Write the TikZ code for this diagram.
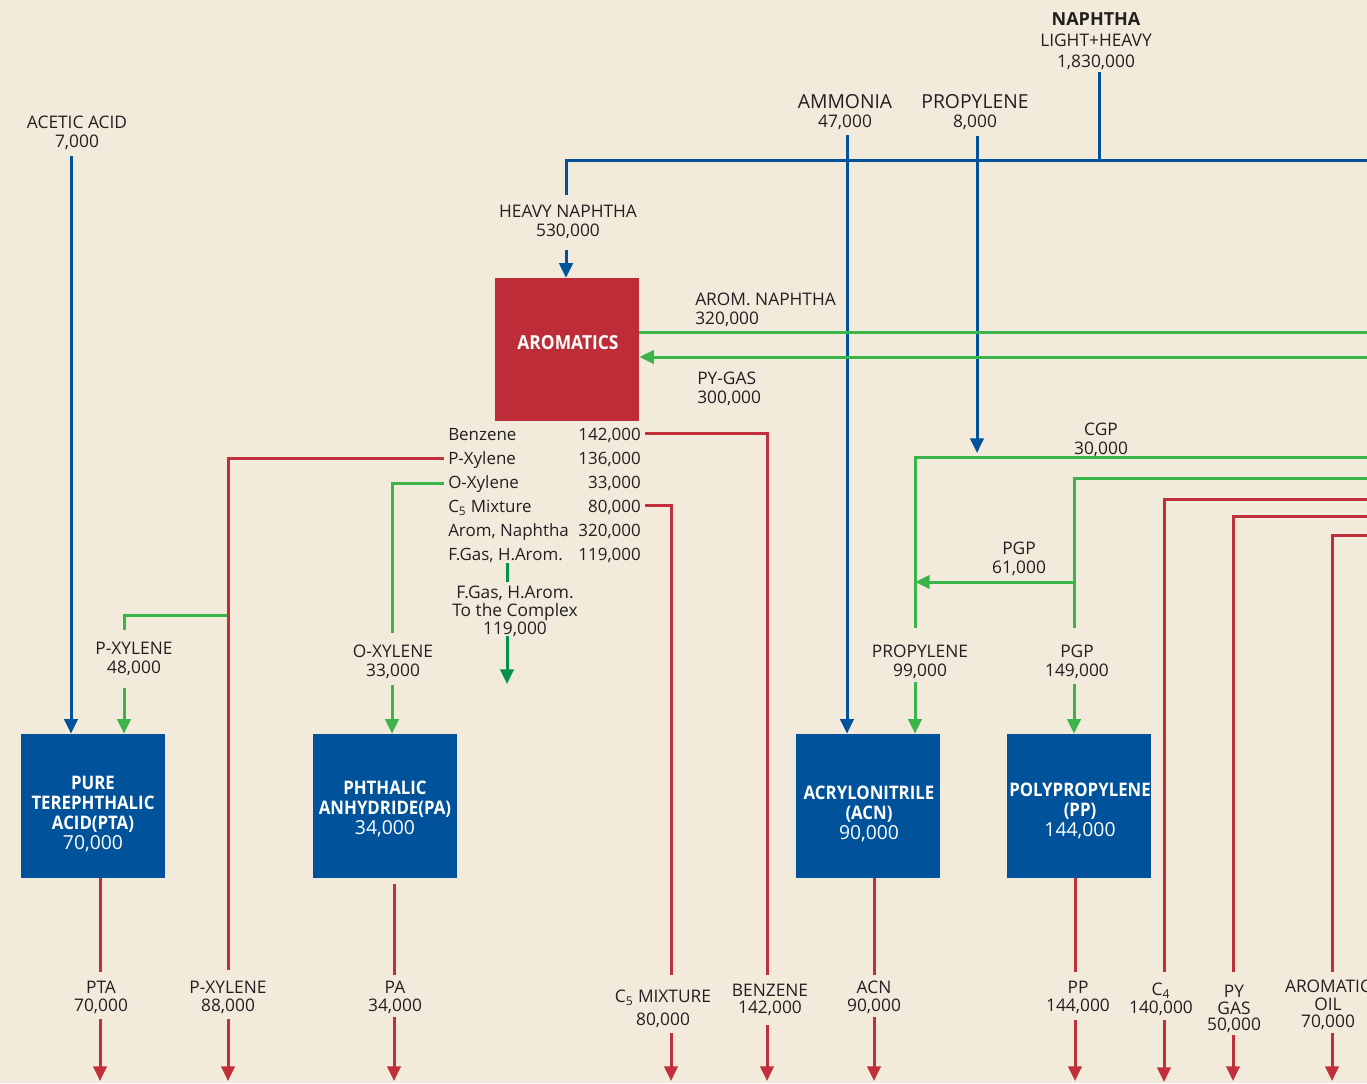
\documentclass[tikz,border=0pt]{standalone}
\usepackage{fontspec}
\setmainfont{Open Sans}
\newfontfamily\bxfont{Open Sans}[FakeStretch=0.9]
\usetikzlibrary{arrows.meta}
\definecolor{bgc}{HTML}{F2EBDC}
\definecolor{lblue}{HTML}{00529B}
\definecolor{lred}{HTML}{C1303A}
\definecolor{boxred}{HTML}{BE2D37}
\definecolor{lgreen}{HTML}{3BB44A}
\definecolor{dgreen}{HTML}{00924A}
\definecolor{txt}{HTML}{231F20}
\begin{document}
\begin{tikzpicture}[x=0.75pt,y=-0.75pt,
  lab/.style={align=center,inner sep=0pt,text=txt,font=\fontsize{13}{14}\selectfont},
  outl/.style={align=center,inner sep=0pt,text=txt,font=\fontsize{13}{13.5}\selectfont},
  tab/.style={inner sep=0pt,text=txt,font=\fontsize{12.7}{14}\selectfont},
  prodbox/.style={fill=lblue,draw=none,minimum width=108pt,minimum height=108pt,inner sep=0pt},
  boxtxt/.style={inner sep=0pt,align=center,text=white,font=\bxfont\bfseries\fontsize{14}{15}\selectfont},
  bl/.style={draw=lblue,line width=2.25pt},
  rl/.style={draw=lred,line width=2.25pt},
  gl/.style={draw=lgreen,line width=2.25pt},
  dgl/.style={draw=dgreen,line width=2.25pt},
  tip/.style={-{Triangle[length=11pt,width=10pt]}}
]
\fill[bgc] (0,0) rectangle (1367,1083);
\useasboundingbox (0,0) rectangle (1367,1083);

% ---------- boxes ----------
\node[prodbox,fill=boxred,minimum height=107pt] (arom) at (567,349.5) {};
\node[prodbox] (pta) at (93,806) {};
\node[prodbox] (pa) at (384.5,806) {};
\node[prodbox] (acn) at (867.5,806) {};
\node[prodbox] (pp) at (1079,806) {};
\node[boxtxt,font=\bxfont\bfseries\fontsize{14.5}{15}\selectfont] (aromt) at (568,343) {AROMATICS};
\node[boxtxt] (ptat) at (93,814) {PURE\\TEREPHTHALIC\\ACID(PTA)\\{\normalfont\fontsize{14.5}{15}\selectfont 70,000}};
\node[boxtxt] (pat) at (385,809) {PHTHALIC\\ANHYDRIDE(PA)\\{\normalfont\fontsize{14.5}{15}\selectfont 34,000}};
\node[boxtxt] (acnt) at (869,814) {ACRYLONITRILE\\(ACN)\\{\normalfont\fontsize{14.5}{15}\selectfont 90,000}};
\node[boxtxt] (ppt) at (1080,811) {POLYPROPYLENE\\(PP)\\{\normalfont\fontsize{14.5}{15}\selectfont 144,000}};

% ---------- top labels ----------
\node[lab] (lacetic) at (77,133) {ACETIC ACID\\7,000};
\node[lab,font=\fontsize{13}{16}\selectfont] (lnaph) at (1096,41) {{\bfseries\fontsize{13.5}{16}\selectfont NAPHTHA}\\LIGHT+HEAVY\\1,830,000};
\node[lab] (lamm) at (845,112) {{\fontsize{14.5}{14}\selectfont AMMONIA}\\47,000};
\node[lab] (lprop) at (975,112) {{\fontsize{14.5}{14}\selectfont PROPYLENE}\\8,000};
\node[lab] (lheavy) at (568,222) {HEAVY NAPHTHA\\530,000};
\node[lab,anchor=west,align=left] (laromn) at (695,310) {AROM. NAPHTHA\\320,000};
\node[lab,anchor=west,align=left] (lpyg) at (697,388.5) {PY-GAS\\300,000};
\node[lab] (lcgp) at (1101,439.5) {CGP\\30,000};
\node[lab] (lpgp61) at (1019,559) {PGP\\61,000};
\node[lab] (lpx48) at (134,659) {P-XYLENE\\48,000};
\node[lab] (lox) at (393,662) {O-XYLENE\\33,000};
\node[lab,font=\fontsize{13}{13.3}\selectfont] (lfgas) at (515,611.5) {F.Gas, H.Arom.\\To the Complex\\119,000};
\node[lab] (lprop99) at (920,662) {PROPYLENE\\99,000};
\node[lab] (lpgp149) at (1077,662) {PGP\\149,000};

% ---------- table ----------
\foreach \n/\t/\v/\y in {1/Benzene/142{,}000/437, 2/P-Xylene/136{,}000/461, 3/O-Xylene/33{,}000/485, 4/C\textsubscript{5} Mixture/80{,}000/509, 5/{Arom, Naphtha}/320{,}000/533, 6/{F.Gas, H.Arom.}/119{,}000/557}{
  \node[tab,anchor=west] (tn\n) at (448,\y) {\strut\t};
  \node[tab,anchor=east] (tv\n) at (641,\y) {\strut\v};
}

% ---------- bottom labels ----------
\node[outl] (optal) at (101,997) {PTA\\70,000};
\node[outl] (opxl) at (228,997) {P-XYLENE\\88,000};
\node[outl] (opal) at (395,997) {PA\\34,000};
\node[outl,font=\fontsize{13}{17}\selectfont] (oc5l) at (663,1009) {C\textsubscript{5} MIXTURE\\80,000};
\node[outl,font=\fontsize{13}{12.8}\selectfont] (obzl) at (770,1000) {BENZENE\\142,000};
\node[outl] (oacnl) at (874,997) {ACN\\90,000};
\node[outl] (oppl) at (1078,997) {PP\\144,000};
\node[outl] (oc4l) at (1161,999) {C\textsubscript{4}\\140,000};
\node[outl,font=\fontsize{13}{12.4}\selectfont] (opygl) at (1234,1009) {PY\\GAS\\50,000};
\node[outl,font=\fontsize{13}{13}\selectfont] (oaol) at (1328,1005) {AROMATIC\\OIL\\70,000};

% ---------- blue feeds ----------
\draw[bl,tip] (71,156) -- (pta.north -| 71,0);
\draw[bl] (1099,72) -- (1099,160);
\draw[bl] (1367,160) -- (566,160) -- (566,195);
\draw[bl,tip] (566,250) -- (arom.north -| 566,0);
\draw[bl,tip] (847,135) -- (acn.north -| 847,0);
\draw[bl,tip] (977,136) -- (977,453);

% ---------- green streams ----------
\draw[gl] (arom.east |- 0,332) -- (1367,332);
\draw[gl,tip] (1367,357) -- (arom.east |- 0,357);
\draw[gl] (1367,457) -- (915,457) -- (915,628);
\draw[gl,tip] (915,682) -- (acn.north -| 915,0);
\draw[gl] (1367,478) -- (1074,478) -- (1074,628);
\draw[gl,tip] (1074,684) -- (pp.north -| 1074,0);
\draw[gl,tip] (1074,582) -- (915,582);
\draw[gl] (444,483) -- (392,483) -- (392,633);
\draw[gl,tip] (392,685) -- (pa.north -| 392,0);
\draw[gl] (228,615) -- (124,615) -- (124,630);
\draw[gl,tip] (124,688) -- (pta.north -| 124,0);
\draw[dgl] (507,563) -- (507,582);
\draw[dgl,tip] (507,636) -- (507,684);

% ---------- red streams ----------
\draw[rl] (645,433) -- (767,433) -- (767,975);
\draw[rl,tip] (767,1025) -- (767,1081);
\draw[rl] (444,458) -- (228,458) -- (228,970);
\draw[rl,tip] (228,1019) -- (228,1081);
\draw[rl] (645,505) -- (671,505) -- (671,975);
\draw[rl,tip] (671,1033) -- (671,1081);
\draw[rl] (pta.south -| 100,0) -- (100,972);
\draw[rl,tip] (100,1019) -- (100,1081);
\draw[rl] (394,884) -- (394,975);
\draw[rl,tip] (394,1017) -- (394,1081);
\draw[rl] (acn.south -| 874,0) -- (874,975);
\draw[rl,tip] (874,1017) -- (874,1081);
\draw[rl] (pp.south -| 1075,0) -- (1075,972);
\draw[rl,tip] (1075,1020) -- (1075,1081);
\draw[rl] (1367,499) -- (1164,499) -- (1164,972);
\draw[rl,tip] (1164,1020) -- (1164,1082);
\draw[rl] (1367,516) -- (1233,516) -- (1233,972);
\draw[rl,tip] (1233,1035) -- (1233,1081);
\draw[rl] (1367,535) -- (1332,535) -- (1332,972);
\draw[rl,tip] (1332,1033) -- (1332,1081);
\end{tikzpicture}
\end{document}
